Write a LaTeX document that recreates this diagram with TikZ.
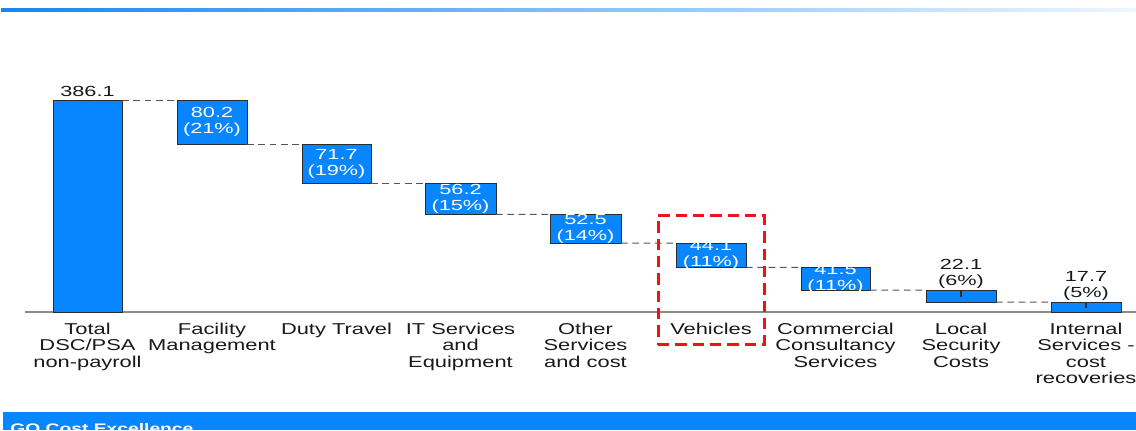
\documentclass[tikz,border=0pt]{standalone}
\usepackage{fontspec}
\setmainfont{Liberation Sans}[FakeStretch=1.39]
\newfontfamily\valfont{Liberation Sans}[FakeStretch=1.48]

\definecolor{barblue}{RGB}{8,134,255}
\definecolor{barline}{RGB}{45,45,45}
\definecolor{linkgray}{RGB}{85,85,85}
\definecolor{axisgray}{RGB}{140,140,140}
\definecolor{textdark}{RGB}{25,25,25}
\definecolor{hired}{RGB}{236,20,20}
\definecolor{ruleblue}{RGB}{20,136,245}
\definecolor{rulefade}{RGB}{238,246,255}

% one waterfall bar: name, left, top, right, bottom (pixel grid)
\newcommand\wfbar[5]{%
  \node[barbox, minimum width={(#4-#2)*0.75pt}, minimum height={(#5-#3)*0.75pt}]
    (#1) at ({(#2+#4)/2},{(#3+#5)/2}) {};}

\begin{document}
\begin{tikzpicture}[
  x=0.75pt, y=-0.75pt,
  barbox/.style={draw=barline, fill=barblue, line width=0.6pt, inner sep=0pt, outer sep=0pt, rectangle},
  link/.style={draw=linkgray, line width=0.75pt, dash pattern=on 5pt off 3.5pt},
  axisline/.style={draw=axisgray, line width=1.1pt},
  tickmark/.style={draw=barline, line width=0.9pt},
  cat/.style={align=center, inner sep=0pt, anchor=north, text=textdark,
              font=\fontsize{11.8}{12.4}\selectfont},
  val/.style={align=center, inner sep=0pt, font=\valfont\fontsize{11}{12}\selectfont},
  inval/.style={val, text=white},
  topval/.style={val, text=textdark, anchor=south},
  hilite/.style={draw=hired, line width=2.25pt, dash pattern=on 8.5pt off 4.5pt,
                 inner sep=0pt, rectangle},
]
\useasboundingbox (0,0) rectangle (1136,430);
\clip (0,0) rectangle (1136,430);

% header rule
\shade[left color=ruleblue, right color=rulefade] (1,8) rectangle (1136,11.5);

% baseline of the chart
\coordinate (axL) at (25,312);
\coordinate (axR) at (1136,312);
\draw[axisline] (axL) -- (axR);

% bars
\wfbar{b1}{53}{100}{122}{312}
\wfbar{b2}{177}{100}{247}{144}
\wfbar{b3}{302}{144}{371}{183.4}
\wfbar{b4}{425}{183.4}{496}{214.3}
\wfbar{b5}{550}{214.3}{621}{243.1}
\wfbar{b6}{676}{243.1}{746}{267.3}
\wfbar{b7}{801}{267.3}{870}{290.1}
\wfbar{b8}{926}{290.1}{996}{302.2}
\wfbar{b9}{1051}{302.2}{1121}{312}

% step connectors
\draw[link] (b1.north east) -- (b2.north west);
\draw[link] (b2.south east) -- (b3.north west);
\draw[link] (b3.south east) -- (b4.north west);
\draw[link] (b4.south east) -- (b5.north west);
\draw[link] (b5.south east) -- (b6.north west);
\draw[link] (b6.south east) -- (b7.north west);
\draw[link] (b7.south east) -- (b8.north west);
\draw[link] (b8.south east) -- (b9.north west);

% small ticks on the thin bars
\draw[tickmark] (b8.north) -- ++(0,7);
\draw[tickmark] (b9.north) -- ++(0,6);

% values
\node[topval] (v1) at ([yshift=2.5pt]b1.north) {386.1};
\node[inval] (v2) at (b2.center) {80.2\\(21\%)};
\node[inval] (v3) at (b3.center) {71.7\\(19\%)};
\node[inval] (v4) at (b4.center) {56.2\\(15\%)};
\node[inval] (v5) at (b5.center) {52.5\\(14\%)};
\node[inval] (v6) at (b6.center) {44.1\\(11\%)};
\node[inval] (v7) at (b7.center) {41.5\\(11\%)};
\node[topval] (v8) at ([yshift=1pt]b8.north) {22.1\\(6\%)};
\node[topval] (v9) at ([yshift=1pt]b9.north) {17.7\\(5\%)};

% category labels
\node[cat] (c1) at (87.5,322.5) {Total\\DSC/PSA\\non-payroll};
\node[cat] (c2) at (212,322.5) {Facility\\Management};
\node[cat] (c3) at (336.5,322.5) {Duty Travel};
\node[cat] (c4) at (460.5,322.5) {IT Services\\and\\Equipment};
\node[cat] (c5) at (585.5,322.5) {Other\\Services\\and cost};
\node[cat] (c6) at (711,322.5) {Vehicles};
\node[cat] (c7) at (835.5,322.5) {Commercial\\Consultancy\\Services};
\node[cat] (c8) at (961,322.5) {Local\\Security\\Costs};
\node[cat] (c9) at (1086,322.5) {Internal\\Services -\\cost\\recoveries};

% highlight around the vehicles column
\node[hilite, minimum width={106*0.75pt}, minimum height={129*0.75pt}] (hl) at (711,280) {};

% footer band
\fill[barblue] (2.5,412) rectangle (1136,430);
\node[anchor=base west, inner sep=0pt, text=white,
      font=\bfseries\fontsize{10.4}{12}\selectfont] (foot) at (10,433) {GO Cost Excellence};
\end{tikzpicture}
\end{document}
